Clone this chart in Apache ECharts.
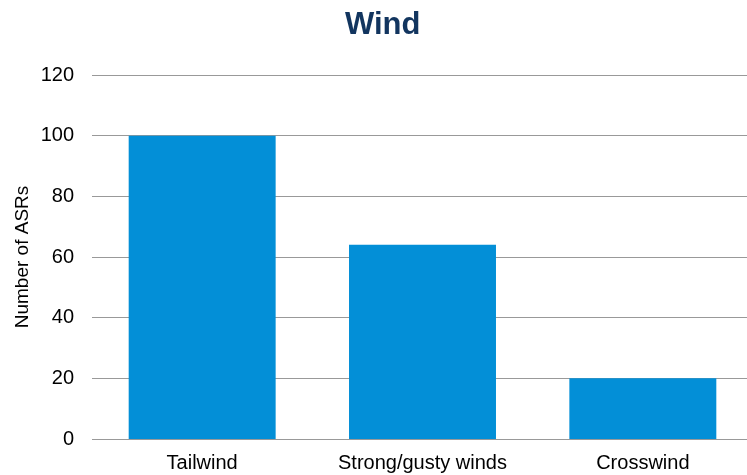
<!DOCTYPE html>
<html>
<head>
<meta charset="utf-8">
<script src="https://cdn.jsdelivr.net/npm/echarts@6/dist/echarts.min.js"></script>
<style>
  html, body { margin: 0; padding: 0; background: #fff; }
  #chart { width: 747px; height: 475px; }
</style>
</head>
<body>
<div id="chart"></div>
<script>
// Wind-related ASR counts
const categories = ['Tailwind', 'Strong/gusty winds', 'Crosswind'];
const asrCounts = [100, 64, 20];
const yTicks = { min: 0, max: 120, interval: 20 };

const chart = echarts.init(document.getElementById('chart'));
chart.setOption({
  animation: false,
  title: {
    text: 'Wind',
    left: 340,
    top: 5,
    textStyle: { fontFamily: 'Liberation Sans', fontSize: 31, fontWeight: 'bold', color: '#12355F' }
  },
  grid: {
    left: 92, top: 75, width: 661, height: 364,
    containLabel: false,
    outerBoundsMode: 'none'
  },
  xAxis: {
    type: 'category',
    data: categories,
    axisLine: { show: false },
    axisTick: { show: false },
    axisLabel: { fontFamily: 'Liberation Sans', fontSize: 20, color: '#000', margin: 14 }
  },
  yAxis: {
    type: 'value',
    min: yTicks.min,
    max: yTicks.max,
    interval: yTicks.interval,
    name: 'Number of ASRs',
    nameLocation: 'middle',
    nameGap: 60,
    nameMoveOverlap: false,
    nameTextStyle: { fontFamily: 'Liberation Sans', fontSize: 19, color: '#000' },
    axisLine: { show: false },
    axisTick: { show: false },
    axisLabel: { fontFamily: 'Liberation Sans', fontSize: 20, color: '#000', margin: 18 },
    splitLine: { lineStyle: { color: '#999', width: 1 } }
  },
  series: [{
    type: 'bar',
    data: asrCounts,
    barWidth: '66.7%',
    itemStyle: { color: '#038FD7' }
  }]
});
</script>
</body>
</html>
